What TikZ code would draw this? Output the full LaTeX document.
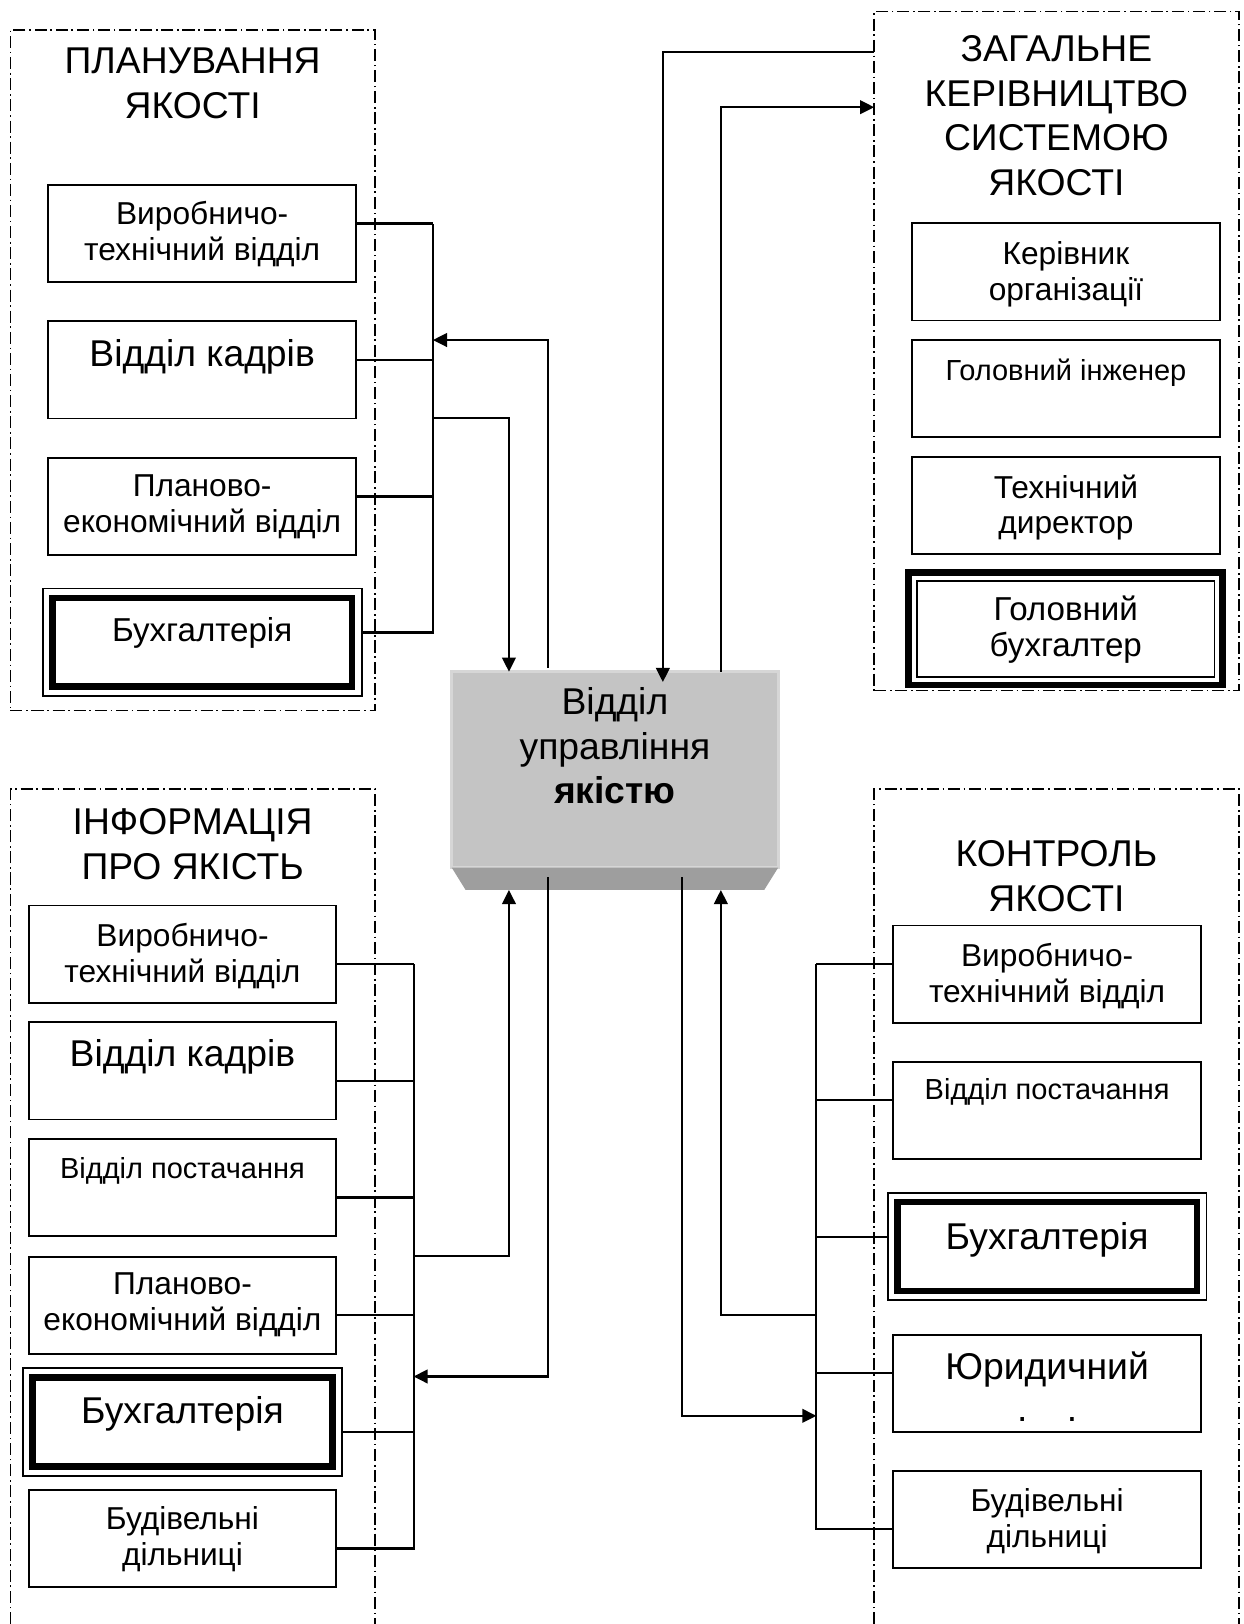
\documentclass[tikz,border=0pt]{standalone}
\usepackage{fontspec}
\setmainfont{Liberation Sans}
\usepackage{tikz}
\usetikzlibrary{arrows.meta}
\usepackage{xcolor}
\definecolor{facegray}{RGB}{196,196,196}
\definecolor{bevelgray}{RGB}{158,158,158}
\definecolor{edgegray}{RGB}{214,214,214}
\newcommand{\lift}[2]{\raisebox{#1}[0pt][0pt]{\begin{tabular}[t]{@{}c@{}}#2\end{tabular}}}

\begin{document}
\begin{tikzpicture}[x=0.5pt, y=-0.5pt,
    box/.style={rectangle, draw, line width=0.9pt, minimum width=148.5pt, minimum height=46.9pt, inner sep=0pt, outer sep=0pt},
    dblbox/.style={box, line width=0.9pt, minimum width=153.9pt, minimum height=52pt},
    grp/.style={draw, line width=0.75pt, dash pattern=on 5.8pt off 1.8pt on 0.8pt off 1.8pt},
    conn/.style={line width=1pt},
    arr/.style={conn, -{Triangle[length=6.8pt,width=6.6pt]}},
    ttl/.style={font=\fontsize{18}{21.5}\selectfont},
    txtl/.style={font=\fontsize{18}{20}\selectfont},
    txtb/.style={font=\fontsize{16}{17.5}\selectfont},
    txts/.style={font=\fontsize{15.3}{17.2}\selectfont},
    txtm/.style={font=\fontsize{14}{16}\selectfont},
    txtc/.style={font=\fontsize{18}{21.3}\selectfont}]

    \useasboundingbox (0,0) rectangle (1201,1568);

    % Planning
    \node[grp, rectangle, inner sep=0pt, outer sep=0pt, minimum width=176pt, minimum height=328.5pt] (pgrp) at (186,357.5) {};
    \node[ttl] (pttl) at (186,71.4) {\lift{0pt}{ПЛАНУВАННЯ\\ЯКОСТІ}};
    \node[box, txts] (pt1) at (195.2,225.3) {\lift{4.05pt}{Виробничо-\\технічний відділ}};
    \node[box, txtl] (pt2) at (195.2,357.2) {\lift{1.5pt}{Відділ кадрів}};
    \node[box, txts] (pt3) at (195.2,488.9) {\lift{4.75pt}{Планово-\\економічний відділ}};
    \node[dblbox, txtb] (pt4) at (195.2,620.2) {\lift{0.6pt}{Бухгалтерія}};

    % General management
    \node[grp, rectangle, inner sep=0pt, outer sep=0pt, minimum width=176pt, minimum height=327.9pt] (ggrp) at (1020,338.9) {};
    \node[ttl] (gttl) at (1020,59.5) {\lift{0pt}{ЗАГАЛЬНЕ\\КЕРІВНИЦТВО\\СИСТЕМОЮ\\ЯКОСТІ}};
    \node[box, txts] (gk1) at (1029.2,262.6) {\lift{3.4pt}{Керівник\\організації}};
    \node[box, txtm] (gk2) at (1029.2,375.4) {\lift{4.25pt}{Головний інженер}};
    \node[box, txts] (gk3) at (1029.2,488.4) {\lift{3.65pt}{Технічний\\директор}};
    \node[box, line width=3.2pt, minimum width=151.6pt, minimum height=54.2pt, txtb] (gk4) at (1029,607.1) {\lift{3.9pt}{Головний\\бухгалтер}};

    % Information
    \draw[grp] (10,1568) |- (362,762) -- (362,1568);
    \node[ttl] (ittl) at (186,806) {\lift{0pt}{ІНФОРМАЦІЯ\\ПРО ЯКІСТЬ}};
    \node[box, txts] (it1) at (176.2,921.2) {\lift{3.6pt}{Виробничо-\\технічний відділ}};
    \node[box, txtl] (it2) at (176.2,1034) {\lift{2.1pt}{Відділ кадрів}};
    \node[box, txtm] (it3) at (176.2,1146.7) {\lift{4.55pt}{Відділ постачання}\hspace{9pt}};
    \node[box, txts] (it4) at (176.2,1260.2) {\lift{5pt}{Планово-\\економічний відділ}};
    \node[dblbox, txtl] (it5) at (176.2,1373) {\lift{-0.6pt}{Бухгалтерія}};
    \node[box, txts] (it6) at (176.2,1485.6) {\lift{4.25pt}{Будівельні\\дільниці}};

    % Control
    \draw[grp] (844,1568) |- (1196,762) -- (1196,1568);
    \node[ttl] (cttl) at (1020,836.7) {\lift{0pt}{КОНТРОЛЬ\\ЯКОСТІ}};
    \node[box, txts] (ct1) at (1011,940.5) {\lift{3.6pt}{Виробничо-\\технічний відділ}};
    \node[box, txtm] (ct2) at (1011,1072) {\lift{5pt}{Відділ постачання}};
    \node[dblbox, txtl] (ct3) at (1011,1203.5) {\lift{-1.65pt}{Бухгалтерія}};
    \node[box, txtl] (ct4) at (1011,1335.5) {\lift{1.6pt}{Юридичний\\.\hspace{19pt}.}};
    \node[box, txts] (ct5) at (1011,1467) {\lift{3.8pt}{Будівельні\\дільниці}};

    % double borders
    \foreach \n in {pt4,it5,ct3}
        \draw[line width=3.2pt] ([shift={(4.6pt,-4.6pt)}]\n.north west) rectangle ([shift={(-4.6pt,4.6pt)}]\n.south east);
    \draw[line width=0.9pt] ([shift={(4pt,-4pt)}]gk4.north west) rectangle ([shift={(-4pt,4pt)}]gk4.south east);

    % Quality department
    \node[fill=facegray, draw=edgegray, line width=1.5pt, minimum width=157.6pt, minimum height=94.6pt, inner sep=0pt, outer sep=0pt, txtc] (vuy) at (593.75,743.1) {\lift{26.4pt}{Відділ\\управління\\\textbf{якістю}}};
    \fill[bevelgray] (vuy.south west) -- (vuy.south east) -- ++(-13.5,21.6) -- ++(-288.3,0) -- cycle;
    \coordinate (vbase) at ([yshift=-10.8pt]vuy.south);
    \coordinate (vfoot) at ([yshift=-4.6pt]vuy.south);

    \coordinate (ca) at (491.4,0);
    \coordinate (cb) at (528.8,0);
    \coordinate (cc) at (640,0);
    \coordinate (cd) at (696,0);
    \coordinate (ce) at (658.8,0);

    % buses
    \coordinate (pbus) at (418,215.8);
    \coordinate (ibus) at (399.3,930.7);
    \coordinate (cbus) at (788.2,931);
    \foreach \n in {pt1,pt2,pt3,pt4}
        \draw[conn] ([yshift=4.75pt]\n.east) -| (pbus);
    \foreach \i in {1,...,6}
        \draw[conn] ([yshift=-4.75pt]it\i.east) -| (ibus);
    \foreach \n/\s in {ct1/4.75,ct2/4.75,ct3/4.75,ct4/4.75,ct5/-4.75}
        \draw[conn] ([yshift=\s pt]\n.west) -| (cbus);

    % links
    \coordinate (pin) at (418,328.3);
    \coordinate (pout) at (418,403.2);
    \coordinate (gsrc) at (ggrp.west |- 0,50);
    \coordinate (gdst) at (ggrp.west |- 0,103.5);
    \coordinate (ibr) at (399.3,1212.6);
    \coordinate (iin) at (399.3,1329);
    \coordinate (cbr) at (788.2,1269.6);
    \coordinate (cin) at (788.2,1367);

    \draw[arr] ([yshift=2pt]cb |- vuy.north) |- (pin);
    \draw[arr] (pout) -| (ca |- vuy.north);
    \draw[arr] (gsrc) -| ([yshift=-5pt]cc |- vuy.north);
    \draw[arr] (cd |- vuy.north) |- (gdst);
    \draw[arr] (ibr) -| (ca |- vbase);
    \draw[arr] (cb |- vfoot) |- (iin);
    \draw[arr] (ce |- vfoot) |- (cin);
    \draw[arr] (cbr) -| (cd |- vbase);
\end{tikzpicture}
\end{document}
